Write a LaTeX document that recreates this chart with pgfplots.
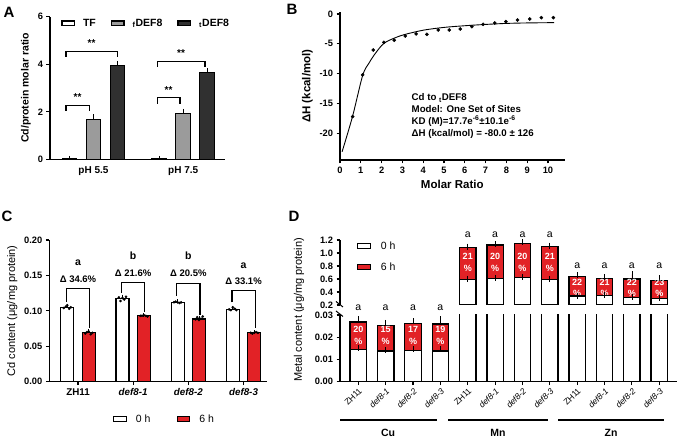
\documentclass[border=0pt]{standalone}
\usepackage{fontspec}
\setmainfont{Liberation Sans}
\usepackage{pgfplots}
\pgfplotsset{compat=1.18}
\definecolor{myred}{RGB}{226,34,38}
\definecolor{fgray}{RGB}{155,155,155}
\definecolor{tgray}{RGB}{48,48,48}
\pgfplotsset{
  base/.style={scale only axis, anchor=south west,
    axis line style={line width=1.1pt,-},
    tick style={black, line width=1.1pt},
    tick align=outside, major tick length=3.5pt,
    tick label style={font=\bfseries\fontsize{9.3}{10}\selectfont},
    /pgf/number format/assume math mode=true,
    scaled y ticks=false, scaled x ticks=false,
    label style={font=\bfseries\fontsize{10.5}{11}\selectfont},
    clip mode=individual},
  boxleg/.style={legend image code/.code={\draw[##1, line width=1.3pt] (0pt,-2.4pt) rectangle (12.5pt,2.4pt);}},
  mybar/.style={ybar, bar shift=0pt, draw=black, forget plot},
}
\tikzset{pct/.style={white, font=\bfseries\fontsize{9}{9}\selectfont},
  lta/.style={font=\fontsize{10.5}{11}\selectfont}}
\begin{document}
\begin{tikzpicture}
\path[use as bounding box] (0pt,0pt) rectangle (680pt,438pt);

% ---------------- Panel A ----------------
\begin{axis}[base, at={(50pt,278.7pt)}, width=175pt, height=142.6pt,
  axis x line*=bottom, axis y line*=left,
  xmin=-0.485, xmax=1.466, ymin=0, ymax=6, ytick={0,2,4,6},
  xtick={0,1}, xticklabels={pH 5.5,pH 7.5}, xtick style={draw=none},
  xticklabel style={font=\bfseries\fontsize{10}{11}\selectfont},
  ylabel={Cd/protein molar ratio},
  bar width=0.167,
  error bars/error bar style={line width=0.8pt},
  error bars/error mark options={line width=0.8pt, mark size=2.5pt},
  legend style={at={(0.063,0.954)}, anchor=west, draw=none, fill=none, legend columns=3,
    font=\bfseries\fontsize{10.5}{11}\selectfont, inner sep=0pt,
    /tikz/every odd column/.append style={column sep=6pt},
    /tikz/every even column/.append style={column sep=13pt}}]
\addlegendimage{boxleg, fill=white, draw=black}
\addlegendentry{TF}
\addlegendimage{boxleg, fill=fgray, draw=black}
\addlegendentry{\textsubscript{f}DEF8}
\addlegendimage{boxleg, fill=tgray, draw=black}
\addlegendentry{\textsubscript{t}DEF8}
\addplot[mybar, fill=white, line width=1pt, error bars/.cd, y dir=plus, y explicit]
  coordinates {(-0.2676,0.03) +- (0,0.01) (0.7324,0.03) +- (0,0.01)};
\addplot[mybar, fill=fgray, line width=1pt, error bars/.cd, y dir=plus, y explicit]
  coordinates {(0,1.695) +- (0,0.09) (1,1.93) +- (0,0.09)};
\addplot[mybar, fill=tgray, line width=1pt, error bars/.cd, y dir=plus, y explicit]
  coordinates {(0.2676,3.965) +- (0,0.07) (1.2676,3.66) +- (0,0.07)};
\draw[line width=1.1pt] (axis cs:-0.307,2.04) -- (axis cs:-0.307,2.28) -- (axis cs:-0.047,2.28) -- (axis cs:-0.047,2.04);
\draw[line width=1.1pt] (axis cs:-0.307,4.31) -- (axis cs:-0.307,4.55) -- (axis cs:0.265,4.55) -- (axis cs:0.265,4.31);
\draw[line width=1.1pt] (axis cs:0.711,2.34) -- (axis cs:0.711,2.59) -- (axis cs:0.964,2.59) -- (axis cs:0.964,2.34);
\draw[line width=1.1pt] (axis cs:0.711,3.89) -- (axis cs:0.711,4.13) -- (axis cs:1.243,4.13) -- (axis cs:1.243,3.89);
\node[font=\bfseries\fontsize{10}{10}\selectfont] at (axis cs:-0.177,2.60) {**};
\node[font=\bfseries\fontsize{10}{10}\selectfont] at (axis cs:-0.021,4.87) {**};
\node[font=\bfseries\fontsize{10}{10}\selectfont] at (axis cs:0.837,2.91) {**};
\node[font=\bfseries\fontsize{10}{10}\selectfont] at (axis cs:0.977,4.45) {**};
\end{axis}

% ---------------- Panel B ----------------
\begin{axis}[base, at={(340pt,278pt)}, width=224.6pt, height=147.8pt,
  axis x line*=bottom, axis y line*=left,
  xmin=0, xmax=10.8, ymin=-24.47, ymax=0.3,
  xtick={0,1,...,10}, ytick={-20,-15,-10,-5,0},
  xlabel={Molar Ratio}, ylabel={ΔH (kcal/mol)},
  xlabel style={font=\bfseries\fontsize{11.5}{12}\selectfont},
  ylabel style={font=\bfseries\fontsize{11.5}{12}\selectfont}]
\addplot[black, line width=0.9pt, smooth, tension=0.5] coordinates {
 (0.1,-23.1) (0.6,-17.2) (1.09,-10.3) (1.4,-8.2) (1.7,-6.6) (2.1,-4.95) (2.6,-4.06)
 (3.1,-3.45) (4,-2.72) (5,-2.25) (6,-1.97) (7,-1.75) (8,-1.58) (9,-1.5) (10.3,-1.45)};
\addplot[only marks, mark=*, mark size=1.6pt, black] coordinates {
 (0.61,-17.2) (1.09,-10.2) (1.6,-6.03) (2.11,-4.75) (2.61,-4.41) (3.14,-3.69) (3.66,-3.35)
 (4.18,-3.41) (4.72,-2.68) (5.25,-2.68) (5.78,-2.51) (6.34,-2.12) (6.88,-1.73) (7.44,-1.51)
 (7.98,-1.28) (8.54,-1.01) (9.12,-0.84) (9.68,-0.62) (10.26,-0.62)};
\end{axis}
\node[anchor=north west, align=left, inner sep=0pt, font=\bfseries\fontsize{9.7}{11.8}\selectfont]
  at (411.5pt,344.5pt) {Cd to \textsubscript{t}DEF8\\Model: One Set of Sites\\KD (M)=17.7e\textsuperscript{-6}±10.1e\textsuperscript{-6}\\ΔH (kcal/mol) = -80.0 ± 126};

% ---------------- Panel C ----------------
\begin{axis}[base, at={(49.3pt,56.3pt)}, width=217.4pt, height=141.7pt,
  axis x line*=bottom, axis y line*=left,
  xmin=-0.52, xmax=3.42, ymin=0, ymax=0.2, ytick={0,0.05,0.1,0.15,0.2},
  yticklabel style={/pgf/number format/fixed, /pgf/number format/fixed zerofill, /pgf/number format/precision=2},
  xtick={0,1,2,3}, xticklabels={ZH11,\textit{def8-1},\textit{def8-2},\textit{def8-3}},
  xticklabel style={font=\bfseries\fontsize{9.8}{10}\selectfont},
  ylabel={Cd content (μg/mg protein)},
  ylabel style={font=\fontsize{11}{12}\selectfont},
  bar width=0.236,
  error bars/error bar style={line width=0.8pt},
  error bars/error mark options={line width=0.8pt, mark size=2pt},
  legend style={at={(0.293,-0.263)}, anchor=west, draw=none, fill=none, legend columns=2,
    font=\fontsize{10.5}{11}\selectfont, inner sep=0pt,
    /tikz/every odd column/.append style={column sep=7pt},
    /tikz/every even column/.append style={column sep=24pt}}]
\addlegendimage{boxleg, fill=white, draw=black}
\addlegendentry{0 h}
\addlegendimage{boxleg, fill=myred, draw=black}
\addlegendentry{6 h}
\addplot[mybar, fill=white, line width=1.1pt, error bars/.cd, y dir=plus, y explicit]
  coordinates {(-0.194,0.105) +- (0,0.002) (0.806,0.117) +- (0,0.003) (1.806,0.112) +- (0,0.0015) (2.806,0.102) +- (0,0.002)};
\addplot[mybar, fill=myred, line width=1.1pt, error bars/.cd, y dir=plus, y explicit]
  coordinates {(0.194,0.0697) +- (0,0.0015) (1.194,0.093) +- (0,0.001) (2.194,0.0885) +- (0,0.002) (3.194,0.069) +- (0,0.001)};
\addplot[only marks, mark=*, mark size=1.1pt, black, forget plot] coordinates {
 (-0.26,0.104) (-0.22,0.106) (-0.194,0.108) (-0.16,0.103) (-0.13,0.105)
 (0.13,0.068) (0.16,0.070) (0.194,0.071) (0.23,0.067) (0.26,0.069)
 (0.74,0.119) (0.77,0.114) (0.806,0.118) (0.84,0.116) (0.87,0.120)
 (1.13,0.093) (1.16,0.093) (1.194,0.094) (1.23,0.093) (1.26,0.092)
 (1.74,0.112) (1.77,0.113) (1.806,0.112) (1.84,0.111) (1.87,0.112)
 (2.13,0.088) (2.16,0.091) (2.194,0.087) (2.23,0.089) (2.26,0.092)
 (2.74,0.102) (2.77,0.101) (2.806,0.105) (2.84,0.103) (2.87,0.101)
 (3.13,0.069) (3.16,0.068) (3.194,0.069) (3.23,0.070) (3.26,0.069)};
\draw[line width=1.2pt] (axis cs:-0.21,0.113) -- (axis cs:-0.21,0.132) -- (axis cs:0.21,0.132) -- (axis cs:0.21,0.076);
\draw[line width=1.2pt] (axis cs:0.79,0.125) -- (axis cs:0.79,0.140) -- (axis cs:1.21,0.140) -- (axis cs:1.21,0.098);
\draw[line width=1.2pt] (axis cs:1.79,0.121) -- (axis cs:1.79,0.139) -- (axis cs:2.21,0.139) -- (axis cs:2.21,0.094);
\draw[line width=1.2pt] (axis cs:2.79,0.112) -- (axis cs:2.79,0.129) -- (axis cs:3.21,0.129) -- (axis cs:3.21,0.076);
\node[font=\bfseries\fontsize{9.5}{10}\selectfont] at (axis cs:0,0.145) {Δ 34.6\%};
\node[font=\bfseries\fontsize{9.5}{10}\selectfont] at (axis cs:1,0.153) {Δ 21.6\%};
\node[font=\bfseries\fontsize{9.5}{10}\selectfont] at (axis cs:2,0.153) {Δ 20.5\%};
\node[font=\bfseries\fontsize{9.5}{10}\selectfont] at (axis cs:3,0.142) {Δ 33.1\%};
\node[font=\bfseries\fontsize{10.5}{11}\selectfont] at (axis cs:0,0.168) {a};
\node[font=\bfseries\fontsize{10.5}{11}\selectfont] at (axis cs:1,0.178) {b};
\node[font=\bfseries\fontsize{10.5}{11}\selectfont] at (axis cs:2,0.178) {b};
\node[font=\bfseries\fontsize{10.5}{11}\selectfont] at (axis cs:3,0.164) {a};
\end{axis}

% ---------------- Panel D lower ----------------
\begin{axis}[base, at={(340pt,56.3pt)}, width=337pt, height=66.7pt,
  axis x line*=bottom, axis y line*=left,
  xmin=0.331, xmax=12.648, ymin=0, ymax=0.03, ytick={0,0.01,0.02,0.03},
  yticklabel style={/pgf/number format/fixed, /pgf/number format/fixed zerofill, /pgf/number format/precision=2},
  xtick={1,...,12},
  xticklabels={ZH11,\textit{def8-1},\textit{def8-2},\textit{def8-3},ZH11,\textit{def8-1},\textit{def8-2},\textit{def8-3},ZH11,\textit{def8-1},\textit{def8-2},\textit{def8-3}},
  xticklabel style={font=\fontsize{8.5}{9}\selectfont, rotate=45, anchor=north east, inner sep=1.5pt},
  bar width=0.6,
  error bars/error bar style={line width=0.8pt},
  error bars/error mark options={line width=0.8pt, mark size=3pt}]
\addplot[mybar, fill=myred, line width=1.3pt, error bars/.cd, y dir=plus, y explicit]
  coordinates {(1,0.0269) +- (0,0.0012) (2,0.0254) +- (0,0.0011) (3,0.0262) +- (0,0.001) (4,0.0259) +- (0,0.0021)};
\addplot[mybar, fill=white, line width=1.3pt, error bars/.cd, y dir=plus, y explicit]
  coordinates {(1,0.0145) +- (0,0.0007) (2,0.0138) +- (0,0.0004) (3,0.0139) +- (0,0.0006) (4,0.0138) +- (0,0.0008)};
\addplot[mybar, fill=white, line width=1.3pt]
  coordinates {(5,0.04) (6,0.04) (7,0.04) (8,0.04) (9,0.04) (10,0.04) (11,0.04) (12,0.04)};
\node[pct] at (axis cs:1,0.0235) {20}; \node[pct] at (axis cs:1,0.018) {\%};
\node[pct] at (axis cs:2,0.0235) {15}; \node[pct] at (axis cs:2,0.018) {\%};
\node[pct] at (axis cs:3,0.0235) {17}; \node[pct] at (axis cs:3,0.018) {\%};
\node[pct] at (axis cs:4,0.0235) {19}; \node[pct] at (axis cs:4,0.018) {\%};
\node[lta] at (axis cs:1,0.0334) {a};
\node[lta] at (axis cs:2,0.0334) {a};
\node[lta] at (axis cs:3,0.0334) {a};
\node[lta] at (axis cs:4,0.0334) {a};
\end{axis}

% ---------------- Panel D upper ----------------
\begin{axis}[base, at={(340pt,133pt)}, width=337pt, height=65pt,
  axis y line*=left, axis x line=none,
  xmin=0.331, xmax=12.648, ymin=0.2, ymax=1.2, ytick={0.2,0.4,0.6,0.8,1.0,1.2},
  yticklabel style={/pgf/number format/fixed, /pgf/number format/fixed zerofill, /pgf/number format/precision=1},
  bar width=0.6,
  error bars/error bar style={line width=0.8pt},
  error bars/error mark options={line width=0.8pt, mark size=3pt},
  legend style={at={(0.05,1.01)}, anchor=north west, draw=none, fill=none, legend columns=1,
    font=\fontsize{10.5}{11}\selectfont, inner sep=0pt, row sep=8pt,
    /tikz/every odd column/.append style={column sep=8pt}}]
\addlegendimage{boxleg, fill=white, draw=black}
\addlegendentry{0 h}
\addlegendimage{boxleg, fill=myred, draw=black}
\addlegendentry{6 h}
\addplot[mybar, fill=myred, line width=1.3pt, error bars/.cd, y dir=plus, y explicit]
  coordinates {(5,1.088) +- (0,0.01) (6,1.123) +- (0,0.01) (7,1.149) +- (0,0.015) (8,1.097) +- (0,0.015)
               (9,0.636) +- (0,0.02) (10,0.61) +- (0,0.02) (11,0.60) +- (0,0.07) (12,0.574) +- (0,0.035)};
\node[pct] at (axis cs:5,0.943) {21}; \node[pct] at (axis cs:5,0.765) {\%};
\node[pct] at (axis cs:6,0.943) {20}; \node[pct] at (axis cs:6,0.765) {\%};
\node[pct] at (axis cs:7,0.943) {20}; \node[pct] at (axis cs:7,0.765) {\%};
\node[pct] at (axis cs:8,0.943) {21}; \node[pct] at (axis cs:8,0.765) {\%};
\node[pct] at (axis cs:9,0.549) {22}; \node[pct] at (axis cs:9,0.38) {\%};
\node[pct] at (axis cs:10,0.549) {21}; \node[pct] at (axis cs:10,0.38) {\%};
\node[pct] at (axis cs:11,0.549) {22}; \node[pct] at (axis cs:11,0.38) {\%};
\node[pct] at (axis cs:12,0.549) {23}; \node[pct] at (axis cs:12,0.38) {\%};
\node[lta] at (axis cs:5,1.285) {a};
\node[lta] at (axis cs:6,1.285) {a};
\node[lta] at (axis cs:7,1.285) {a};
\node[lta] at (axis cs:8,1.285) {a};
\node[lta] at (axis cs:9,0.80) {a};
\node[lta] at (axis cs:10,0.80) {a};
\node[lta] at (axis cs:11,0.80) {a};
\node[lta] at (axis cs:12,0.80) {a};
\addplot[mybar, fill=white, line width=1.3pt, error bars/.cd, y dir=plus, y explicit]
  coordinates {(5,0.595) +- (0,0.01) (6,0.61) +- (0,0.005) (7,0.62) +- (0,0.005) (8,0.595) +- (0,0.005)
               (9,0.338) +- (0,0.005) (10,0.343) +- (0,0.005) (11,0.311) +- (0,0.005) (12,0.303) +- (0,0.005)};
\end{axis}

% break marks, group lines and labels
\draw[line width=1pt] (336pt,136.5pt) -- (343pt,131pt);
\draw[line width=1pt] (336pt,127pt) -- (343pt,121.5pt);
\draw[line width=1.4pt] (340pt,18pt) -- (436.7pt,18pt);
\draw[line width=1.4pt] (448pt,18pt) -- (548pt,18pt);
\draw[line width=1.4pt] (558pt,18pt) -- (664pt,18pt);
\node[font=\bfseries\fontsize{10.5}{11}\selectfont] at (388pt,5.5pt) {Cu};
\node[font=\bfseries\fontsize{10.5}{11}\selectfont] at (498pt,5.5pt) {Mn};
\node[font=\bfseries\fontsize{10.5}{11}\selectfont] at (611pt,5.5pt) {Zn};
\node[rotate=90, font=\fontsize{11}{12}\selectfont] at (299pt,128pt) {Metal content (μg/mg protein)};

% panel letters
\node[font=\bfseries\fontsize{15}{16}\selectfont] at (9pt,426pt) {A};
\node[font=\bfseries\fontsize{15}{16}\selectfont] at (292pt,429pt) {B};
\node[font=\bfseries\fontsize{15}{16}\selectfont] at (7pt,222pt) {C};
\node[font=\bfseries\fontsize{15}{16}\selectfont] at (294pt,222pt) {D};
\end{tikzpicture}
\end{document}
